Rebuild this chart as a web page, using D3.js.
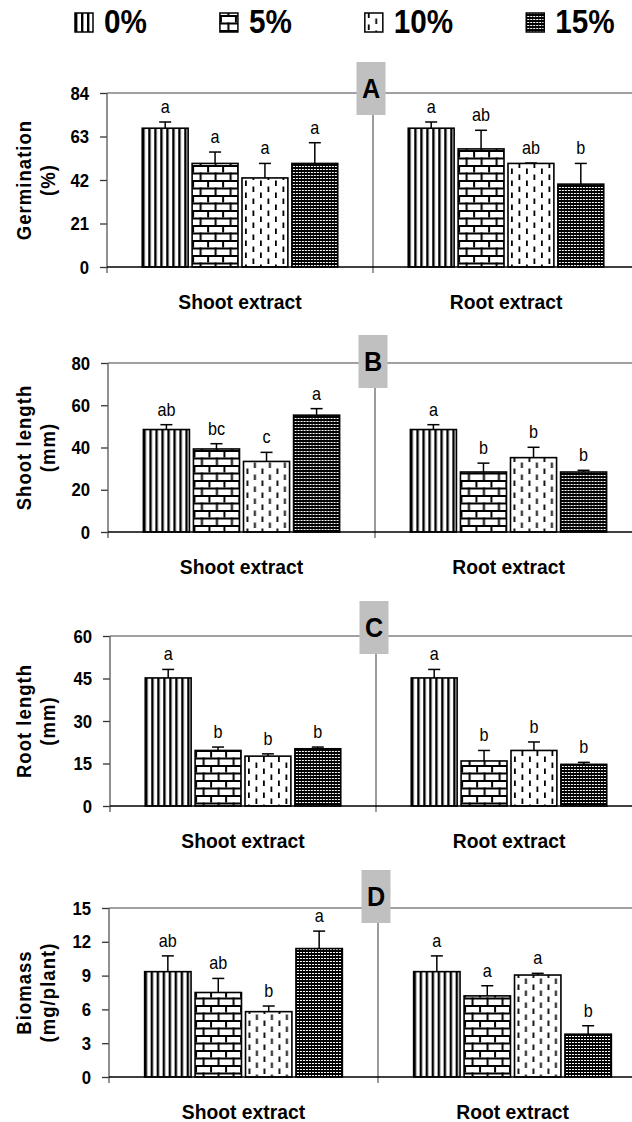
<!DOCTYPE html>
<html>
<head>
<meta charset="utf-8">
<script src="https://cdn.jsdelivr.net/npm/d3@7"></script>
<style>
body { margin: 0; background: #fff; }
text { font-family: "Liberation Sans", Arial, sans-serif; }
</style>
</head>
<body>
<div id="chart"></div>
<script>
// categories and series
var groups = ["Shoot extract", "Root extract"];
var levels = ["0%", "5%", "10%", "15%"];

// A - germination (%)
var germMean = [[67, 50, 43, 50], [67, 57, 50, 40]];
var germErr = [[3, 5.5, 7, 10], [3, 9, 0.2, 10]];
var germSig = [["a", "a", "a", "a"], ["a", "ab", "ab", "b"]];
var germTicks = [0, 21, 42, 63, 84];

// B - shoot length (mm)
var shootMean = [[48.5, 39.3, 33.4, 55.3], [48.5, 28.4, 35.2, 28.4]];
var shootErr = [[2.3, 2.5, 4.3, 3.1], [2.3, 4.2, 4.9, 0.8]];
var shootSig = [["ab", "bc", "c", "a"], ["a", "b", "b", "b"]];
var shootTicks = [0, 20, 40, 60, 80];

// C - root length (mm)
var rootMean = [[45.2, 19.6, 17.6, 20.2], [45.2, 15.9, 19.6, 14.7]];
var rootErr = [[3, 1.2, 0.8, 0.6], [3, 3.7, 3, 0.7]];
var rootSig = [["a", "b", "b", "b"], ["a", "b", "b", "b"]];
var rootTicks = [0, 15, 30, 45, 60];

// D - biomass (mg/plant)
var bioMean = [[9.35, 7.5, 5.8, 11.4], [9.35, 7.2, 9.05, 3.8]];
var bioErr = [[1.4, 1.25, 0.5, 1.55], [1.4, 0.9, 0.15, 0.75]];
var bioSig = [["ab", "ab", "b", "a"], ["a", "a", "a", "b"]];
var bioTicks = [0, 3, 6, 9, 12, 15];

var W = 632, H = 1122;

var svg = d3.select("#chart").append("svg")
  .attr("width", W)
  .attr("height", H);

// the original type is a narrow, tall sans; squeeze it horizontally
function place(sel, x, y, sx, extra) {
  return sel.attr("transform", "translate(" + x + "," + y + ")" + (extra || "") + " scale(" + sx + ",1)");
}

// fill patterns for the four concentrations
var defs = svg.append("defs");

var p0 = defs.append("pattern").attr("id", "pat0")
  .attr("patternUnits", "userSpaceOnUse").attr("width", 6).attr("height", 10);
p0.append("rect").attr("width", 6).attr("height", 10).attr("fill", "#fff");
p0.append("rect").attr("width", 2.4).attr("height", 10).attr("fill", "#000");

var p5 = defs.append("pattern").attr("id", "pat1")
  .attr("patternUnits", "userSpaceOnUse").attr("width", 15).attr("height", 15);
p5.append("rect").attr("width", 15).attr("height", 15).attr("fill", "#fff");
p5.append("rect").attr("y", 0).attr("width", 15).attr("height", 2).attr("fill", "#000");
p5.append("rect").attr("y", 7.5).attr("width", 15).attr("height", 2).attr("fill", "#000");
p5.append("rect").attr("x", 0).attr("y", 0).attr("width", 2).attr("height", 7.5).attr("fill", "#000");
p5.append("rect").attr("x", 7.5).attr("y", 7.5).attr("width", 2).attr("height", 7.5).attr("fill", "#000");

var p10 = defs.append("pattern").attr("id", "pat2")
  .attr("patternUnits", "userSpaceOnUse").attr("width", 15).attr("height", 12);
p10.append("rect").attr("width", 15).attr("height", 12).attr("fill", "#fff");
p10.append("rect").attr("x", 3).attr("y", 0.5).attr("width", 1.8).attr("height", 5.5).attr("fill", "#000");
p10.append("rect").attr("x", 10.5).attr("y", 6.5).attr("width", 1.8).attr("height", 5.5).attr("fill", "#000");

var p15 = defs.append("pattern").attr("id", "pat3")
  .attr("patternUnits", "userSpaceOnUse").attr("width", 3).attr("height", 3);
p15.append("rect").attr("width", 3).attr("height", 3).attr("fill", "#000");
p15.append("rect").attr("x", 1).attr("y", 1).attr("width", 2).attr("height", 1).attr("fill", "#fff");

var fills = ["url(#pat0)", "url(#pat1)", "url(#pat2)", "url(#pat3)"];

// legend
var lx = 75;
levels.forEach(function(l, i) {
  var g = svg.append("g").attr("transform", "translate(" + lx + ",0)");
  g.append("rect")
    .attr("x", 0).attr("y", 13)
    .attr("width", 18).attr("height", 19)
    .attr("fill", fills[i])
    .attr("stroke", "#000").attr("stroke-width", 1.5);
  var t = g.append("text")
    .style("font-size", "33px")
    .style("font-weight", "bold")
    .text(l);
  place(t, 29, 33, 0.9);
  lx += 29 + t.node().getComputedTextLength() * 0.9 + 73;
});

// one panel per measured variable
var panels = [
  {mean: germMean, err: germErr, sig: germSig, ticks: germTicks, letter: "A",
   title: ["Germination", "(%)"], top: 93, base: 267, left: 107, mid: 373, boxTop: 62},
  {mean: shootMean, err: shootErr, sig: shootSig, ticks: shootTicks, letter: "B",
   title: ["Shoot length", "(mm)"], top: 363, base: 532, left: 108, mid: 375, boxTop: 335},
  {mean: rootMean, err: rootErr, sig: rootSig, ticks: rootTicks, letter: "C",
   title: ["Root length", "(mm)"], top: 636, base: 806, left: 110, mid: 376, boxTop: 601},
  {mean: bioMean, err: bioErr, sig: bioSig, ticks: bioTicks, letter: "D",
   title: ["Biomass", "(mg/plant)"], top: 908, base: 1077, left: 109, mid: 378, boxTop: 870}
];

panels.forEach(function(p) {
  var g = svg.append("g");
  var ymax = p.ticks[p.ticks.length - 1];

  var y = d3.scaleLinear().domain([0, ymax]).range([p.base, p.top]);
  var x0 = d3.scaleBand().domain(groups).range([p.left, 2 * p.mid - p.left]);
  var bw = x0.bandwidth();
  var x1 = d3.scaleBand().domain(levels)
    .range([bw * 0.125, bw * 0.875])
    .paddingInner(0.08).paddingOuter(0.04);

  // top border line
  g.append("line")
    .attr("x1", p.left).attr("x2", W)
    .attr("y1", y(ymax)).attr("y2", y(ymax))
    .attr("stroke", "#808080").attr("stroke-width", 1.3);

  // y axis
  var yAxis = g.append("g")
    .attr("transform", "translate(" + p.left + ",0)")
    .call(d3.axisLeft(y).tickValues(p.ticks).tickSize(7).tickSizeOuter(0).tickPadding(11));
  yAxis.select(".domain").remove();
  yAxis.selectAll(".tick line").attr("stroke", "#333").attr("stroke-width", 1.3);
  yAxis.selectAll(".tick text")
    .style("font-family", "'Liberation Sans', Arial, sans-serif")
    .style("font-size", "19px")
    .style("font-weight", "bold")
    .attr("fill", "#000")
    .attr("x", -18 / 0.88)
    .attr("transform", "scale(0.88,1)");
  g.append("line")
    .attr("x1", p.left).attr("x2", p.left)
    .attr("y1", y(ymax)).attr("y2", p.base + 6)
    .attr("stroke", "#555").attr("stroke-width", 1.3);

  // divider between the two extracts
  g.append("line")
    .attr("x1", x0(groups[1])).attr("x2", x0(groups[1]))
    .attr("y1", p.boxTop).attr("y2", p.base + 6)
    .attr("stroke", "#666").attr("stroke-width", 1.3);

  // bars
  var rows = [];
  groups.forEach(function(gr, gi) {
    levels.forEach(function(l, li) {
      rows.push({group: gr, level: l, li: li, v: p.mean[gi][li], e: p.err[gi][li], s: p.sig[gi][li]});
    });
  });

  var bar = g.selectAll(".bar").data(rows).enter().append("g")
    .attr("transform", function(d) { return "translate(" + (x0(d.group) + x1(d.level)) + ",0)"; });

  bar.append("rect")
    .attr("y", function(d) { return y(d.v); })
    .attr("width", x1.bandwidth())
    .attr("height", function(d) { return y(0) - y(d.v); })
    .attr("fill", function(d) { return fills[d.li]; })
    .attr("stroke", "#000")
    .attr("stroke-width", 1.6);

  // error bars (upper only)
  var cx = x1.bandwidth() / 2;
  bar.append("line")
    .attr("x1", cx).attr("x2", cx)
    .attr("y1", function(d) { return y(d.v); })
    .attr("y2", function(d) { return y(d.v + d.e); })
    .attr("stroke", "#000").attr("stroke-width", 1.5);
  bar.append("line")
    .attr("x1", cx - 6).attr("x2", cx + 6)
    .attr("y1", function(d) { return y(d.v + d.e); })
    .attr("y2", function(d) { return y(d.v + d.e); })
    .attr("stroke", "#000").attr("stroke-width", 1.5);

  bar.append("text")
    .attr("transform", function(d) {
      return "translate(" + cx + "," + (y(d.v + d.e) - 9) + ") scale(0.9,1)";
    })
    .attr("text-anchor", "middle")
    .style("font-size", "18px")
    .text(function(d) { return d.s; });

  // baseline
  g.append("line")
    .attr("x1", p.left).attr("x2", W)
    .attr("y1", p.base).attr("y2", p.base)
    .attr("stroke", "#000").attr("stroke-width", 1.4);

  // category labels
  g.selectAll(".cat").data(groups).enter().append("text")
    .attr("transform", function(d) {
      return "translate(" + (x0(d) + bw / 2) + "," + (p.base + 42) + ") scale(0.92,1)";
    })
    .attr("text-anchor", "middle")
    .style("font-size", "21px")
    .style("font-weight", "bold")
    .text(function(d) { return d; });

  // panel letter box
  var bx = x0(groups[1]) - 16.5;
  g.append("rect")
    .attr("x", bx).attr("y", p.boxTop)
    .attr("width", 29).attr("height", 53)
    .attr("fill", "#c0c0c0");
  place(g.append("text")
    .attr("text-anchor", "middle")
    .style("font-size", "28px")
    .style("font-weight", "bold")
    .text(p.letter), bx + 14.5, p.boxTop + 36, 0.9);

  // y title, two lines
  var cy = (p.top + p.base) / 2;
  p.title.forEach(function(t, i) {
    place(g.append("text")
      .attr("text-anchor", "middle")
      .style("font-size", "21px")
      .style("font-weight", "bold")
      .style("letter-spacing", "1.2px")
      .text(t), 31 + i * 24, cy, 0.88, " rotate(-90)");
  });
});
</script>
</body>
</html>
